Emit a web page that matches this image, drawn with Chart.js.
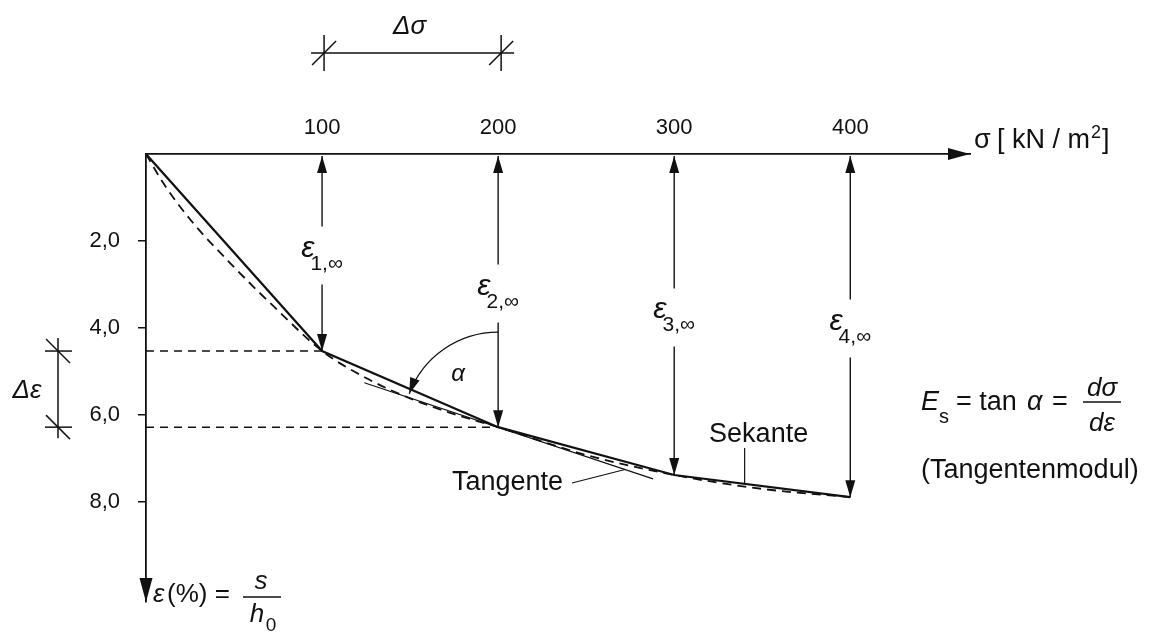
<!DOCTYPE html>
<html>
<head>
<meta charset="utf-8">
<script src="https://cdn.jsdelivr.net/npm/chart.js@4.4.0/dist/chart.umd.min.js"></script>
<style>
  html, body { margin: 0; background: #fff; }
  #wrap { width: 1165px; height: 635px; }
</style>
</head>
<body>
<div id="wrap"><canvas id="oedometer"></canvas></div>
<script>
// stress levels (kN/m2) and strain (%)
const stressLevels = [0, 100, 200, 300, 400];
const strainSecant = [0, 4.53, 6.28, 7.38, 7.89];
// the dashed compression curve
const curveStress = [0, 10, 25, 50, 75, 100, 125, 150, 175, 200, 250, 300, 350, 400];
const curveStrain = [0, 0.68, 1.5, 2.6, 3.6, 4.53, 5.15, 5.62, 5.98, 6.28, 6.92, 7.38, 7.7, 7.89];
// tangent at sigma = 200
const tangentStress = [124, 288];
const tangentStrain = [5.26, 7.47];
const xTicks = [100, 200, 300, 400];
const yTicks = [2, 4, 6, 8];

const ink = '#111';
const sans = "'Liberation Sans', Arial, sans-serif";
Chart.defaults.font.family = sans;
Chart.defaults.color = ink;

function pts(xs, ys) {
    return xs.map((v, i) => ({ x: v, y: ys[i] }));
}

function interp(xs, ys, v) {
    for (let i = 1; i < xs.length; i++) {
        if (v <= xs[i]) {
            const t = (v - xs[i - 1]) / (xs[i] - xs[i - 1]);
            return ys[i - 1] + t * (ys[i] - ys[i - 1]);
        }
    }
    return ys[ys.length - 1];
}

function arrowHead(ctx, tx, ty, ang, len, hw) {
    const c = Math.cos(ang), s = Math.sin(ang);
    ctx.beginPath();
    ctx.moveTo(tx, ty);
    ctx.lineTo(tx - len * c - hw * s, ty - len * s + hw * c);
    ctx.lineTo(tx - len * c + hw * s, ty - len * s - hw * c);
    ctx.closePath();
    ctx.fill();
}

function line(ctx, x1, y1, x2, y2) {
    ctx.beginPath();
    ctx.moveTo(x1, y1);
    ctx.lineTo(x2, y2);
    ctx.stroke();
}

// epsilon with subscript, centred on cx
function epsLabel(ctx, cx, base, sub) {
    const mainFont = 'italic 30px ' + sans;
    const subFont = '21px ' + sans;
    ctx.font = mainFont;
    const w1 = ctx.measureText('ε').width;
    ctx.font = subFont;
    const w2 = ctx.measureText(sub).width;
    const left = cx - (w1 + w2 - 4) / 2;
    ctx.textAlign = 'left';
    ctx.font = mainFont;
    ctx.fillText('ε', left, base);
    ctx.font = subFont;
    ctx.fillText(sub, left + w1 - 4, base + 13);
}

function dimTick(ctx, x, y, vertical, slashDir) {
    if (vertical) line(ctx, x, y - 18, x, y + 18);
    else line(ctx, x - 13, y, x + 14, y);
    line(ctx, x - 12, y + 12 * slashDir, x + 12, y - 12 * slashDir);
}

const sketch = {
    id: 'sketch',
    afterDraw(chart) {
        const { ctx, chartArea: a } = chart;
        const xs = chart.scales.x, ys = chart.scales.y;
        ctx.save();
        ctx.strokeStyle = ink;
        ctx.fillStyle = ink;
        ctx.textBaseline = 'alphabetic';

        // axis arrow heads
        arrowHead(ctx, a.right, a.top, 0, 22, 6);
        arrowHead(ctx, a.left, a.bottom, Math.PI / 2, 24, 6.5);

        // strain arrows for each load step
        ctx.lineWidth = 1.4;
        for (let i = 1; i < stressLevels.length; i++) {
            const px = xs.getPixelForValue(stressLevels[i]);
            const yTop = ys.getPixelForValue(0);
            const yPt = ys.getPixelForValue(strainSecant[i]);
            const gap = (yTop + yPt) / 2 + 3;
            line(ctx, px, yTop + 2, px, gap - 29);
            line(ctx, px, gap + 29, px, yPt);
            arrowHead(ctx, px, yTop + 2, -Math.PI / 2, 17, 5);
            arrowHead(ctx, px, yPt, Math.PI / 2, 17, 5);
            epsLabel(ctx, px, gap + 1, i + ',∞');
        }

        // angle alpha between the vertical and the tangent at sigma = 200
        const cx = xs.getPixelForValue(stressLevels[2]);
        const cy = ys.getPixelForValue(strainSecant[2]);
        const lx = xs.getPixelForValue(tangentStress[0]);
        const ly = ys.getPixelForValue(tangentStrain[0]);
        const endAng = Math.atan2(ly - cy, lx - cx) + 0.04;
        const r = 95;
        ctx.lineWidth = 1.3;
        ctx.beginPath();
        ctx.arc(cx, cy, r, -Math.PI / 2, endAng, true);
        ctx.stroke();
        arrowHead(ctx, cx + r * Math.cos(endAng), cy + r * Math.sin(endAng),
            Math.atan2(-Math.cos(endAng), Math.sin(endAng)), 16, 5);
        ctx.font = 'italic 24px ' + sans;
        ctx.textAlign = 'center';
        ctx.fillText('α', cx - 40, cy - 46);

        // delta sigma dimension
        const d1 = xs.getPixelForValue(100) + 2, d2 = xs.getPixelForValue(200) + 3;
        const dy = 53;
        ctx.lineWidth = 1.5;
        line(ctx, d1 - 13, dy, d2 + 13, dy);
        dimTick(ctx, d1, dy, true, 1);
        dimTick(ctx, d2, dy, true, 1);
        ctx.font = 'italic 26px ' + sans;
        ctx.textAlign = 'center';
        ctx.fillText('Δσ', (d1 + d2) / 2 - 3, 34);

        // delta epsilon dimension
        const e1 = ys.getPixelForValue(strainSecant[1]);
        const e2 = ys.getPixelForValue(strainSecant[2]);
        const ex = 58;
        line(ctx, ex, e1 - 13, ex, e2 + 11);
        dimTick(ctx, ex, e1, false, -1);
        dimTick(ctx, ex, e2, false, -1);
        ctx.fillText('Δε', 27, (e1 + e2) / 2 + 9);

        // axis titles
        ctx.textAlign = 'left';
        ctx.font = '27px ' + sans;
        ctx.fillText('σ', a.right + 4, 148);
        ctx.fillText('[ kN / m', a.right + 27, 148);
        const wU = ctx.measureText('[ kN / m').width;
        ctx.font = '18px ' + sans;
        ctx.fillText('2', a.right + 28 + wU, 138);
        ctx.font = '27px ' + sans;
        ctx.fillText(']', a.right + 39 + wU, 148);

        ctx.font = 'italic 26px ' + sans;
        ctx.fillText('ε', 153, 602);
        ctx.font = '26px ' + sans;
        ctx.fillText('(%) =', 167, 602);
        ctx.lineWidth = 1.4;
        line(ctx, 243, 597, 281, 597);
        ctx.textAlign = 'center';
        ctx.font = 'italic 26px ' + sans;
        ctx.fillText('s', 261, 589);
        ctx.fillText('h', 257, 622);
        ctx.font = '19px ' + sans;
        ctx.fillText('0', 271, 631);

        // modulus formula
        ctx.textAlign = 'left';
        ctx.font = 'italic 27px ' + sans;
        ctx.fillText('E', 921, 410);
        ctx.font = '20px ' + sans;
        ctx.fillText('s', 939, 423);
        ctx.font = '27px ' + sans;
        ctx.fillText('= tan', 956, 410);
        ctx.font = 'italic 27px ' + sans;
        ctx.fillText('α', 1027, 410);
        ctx.font = '27px ' + sans;
        ctx.fillText('=', 1052, 410);
        line(ctx, 1083, 402, 1121, 402);
        ctx.textAlign = 'center';
        ctx.font = 'italic 26px ' + sans;
        ctx.fillText('dσ', 1102, 396);
        ctx.fillText('dε', 1102, 431);
        ctx.textAlign = 'left';
        ctx.font = '27px ' + sans;
        ctx.fillText('(Tangentenmodul)', 921, 478);

        // Tangente label with leader
        const tS = 272;
        const tx = xs.getPixelForValue(tS);
        const ty = ys.getPixelForValue(interp(tangentStress, tangentStrain, tS));
        ctx.textAlign = 'right';
        ctx.fillText('Tangente', 563, 490);
        ctx.lineWidth = 1.2;
        line(ctx, 572, 483, tx, ty);

        // Sekante label with leader
        const sS = 340;
        const sx = xs.getPixelForValue(sS);
        const sy = ys.getPixelForValue(interp(stressLevels, strainSecant, sS));
        ctx.textAlign = 'center';
        ctx.fillText('Sekante', sx + 14, 442);
        line(ctx, sx, 448, sx, sy);

        ctx.restore();
    }
};

const ctx = document.getElementById('oedometer').getContext('2d');
const chart = new Chart(ctx, {
    type: 'line',
    data: {
        datasets: [{
            label: 'Sekante',
            data: pts(stressLevels, strainSecant),
            borderColor: ink,
            borderWidth: 2.2,
            pointRadius: 0,
            tension: 0
        },
        {
            label: 'Kurve',
            data: pts(curveStress, curveStrain),
            borderColor: ink,
            borderWidth: 1.8,
            borderDash: [9, 6],
            pointRadius: 0,
            cubicInterpolationMode: 'monotone'
        },
        {
            label: 'Tangente',
            data: pts(tangentStress, tangentStrain),
            borderColor: ink,
            borderWidth: 1.2,
            pointRadius: 0
        },
        {
            label: 'eps1',
            data: pts([0, stressLevels[1]], [strainSecant[1], strainSecant[1]]),
            borderColor: ink,
            borderWidth: 1.5,
            borderDash: [8, 6],
            pointRadius: 0
        },
        {
            label: 'eps2',
            data: pts([0, stressLevels[2]], [strainSecant[2], strainSecant[2]]),
            borderColor: ink,
            borderWidth: 1.5,
            borderDash: [8, 6],
            pointRadius: 0
        }]
    },
    options: {
        responsive: true,
        maintainAspectRatio: false,
        animation: false,
        devicePixelRatio: 1,
        layout: {
            padding: { left: 0, top: 0, right: 195, bottom: 33 }
        },
        plugins: {
            legend: { display: false },
            tooltip: { enabled: false }
        },
        scales: {
            x: {
                type: 'linear',
                position: 'top',
                min: 0,
                max: 468,
                afterBuildTicks: s => { s.ticks = xTicks.map(v => ({ value: v })); },
                afterFit: s => { s.height = 154; },
                grid: { display: false, drawTicks: false },
                border: { display: true, color: ink, width: 1.8 },
                ticks: {
                    padding: 13,
                    maxRotation: 0,
                    font: { size: 22 },
                    color: ink,
                    callback: v => String(v)
                }
            },
            y: {
                type: 'linear',
                position: 'left',
                reverse: true,
                min: 0,
                max: 10.3,
                afterBuildTicks: s => { s.ticks = yTicks.map(v => ({ value: v })); },
                afterFit: s => { s.width = 146; },
                grid: {
                    display: true,
                    drawOnChartArea: false,
                    drawTicks: true,
                    tickLength: 8,
                    color: ink,
                    lineWidth: 1.5
                },
                border: { display: true, color: ink, width: 1.8 },
                ticks: {
                    padding: 18,
                    font: { size: 22 },
                    color: ink,
                    callback: v => v.toFixed(1).replace('.', ',')
                }
            }
        }
    },
    plugins: [sketch]
});
</script>
</body>
</html>
